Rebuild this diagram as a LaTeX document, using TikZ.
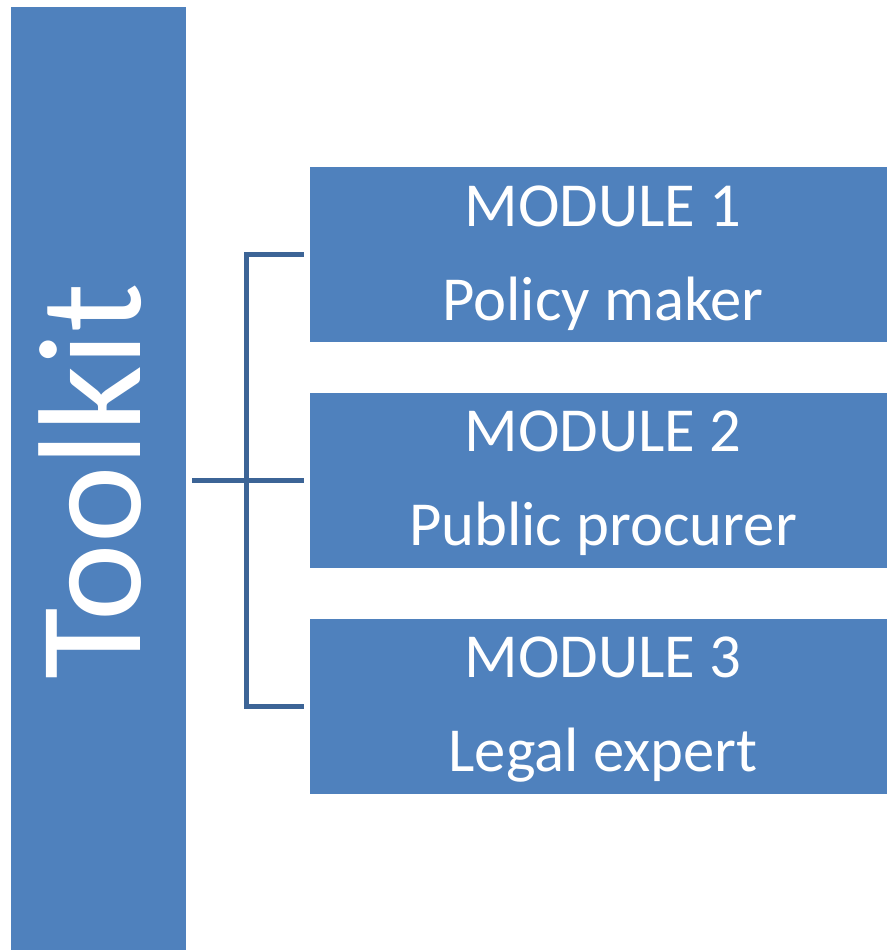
\documentclass[tikz,border=0pt]{standalone}
\usepackage{fontspec}
\setmainfont{Carlito}
\definecolor{boxblue}{RGB}{79,129,189}
\definecolor{lineblue}{RGB}{60,100,150}

\begin{document}
\begin{tikzpicture}[x=0.75pt,y=-0.75pt,
    module/.style={fill=boxblue, text=white, inner xsep=0pt, inner ysep=-6pt,
      minimum width=439.5pt, minimum height=131.25pt,
      font=\fontsize{47}{70.5}\selectfont},
    conn/.style={draw=lineblue, line width=3.75pt,
      shorten <=4.5pt, shorten >=4.5pt}]
    \useasboundingbox (0,0) rectangle (886,950);
    \node[fill=boxblue, inner sep=0pt, minimum width=131.25pt,
      minimum height=709.5pt] (bar) at (98.5,480) {};
    \node[rotate=90, anchor=base, text=white,
      font=\fontsize{110}{132}\selectfont] (toolkit) at (140,481.5) {Toolkit};
    \node[module] (m1) at (603,254.5) {
      \begin{tabular}{c}
MODULE 1\\ Policy maker
      \end{tabular}};
    \node[module] (m2) at (603,480) {
      \begin{tabular}{c}
MODULE 2\\ Public procurer
      \end{tabular}};
    \node[module] (m3) at (603,706) {
      \begin{tabular}{c}
MODULE 3\\ Legal expert
      \end{tabular}};
    \draw[conn] (bar.east) -- (m2.west);
    \draw[conn] (m1.west) -- ++(-63,0) |- (m3.west);
  \end{tikzpicture}
\end{document}
